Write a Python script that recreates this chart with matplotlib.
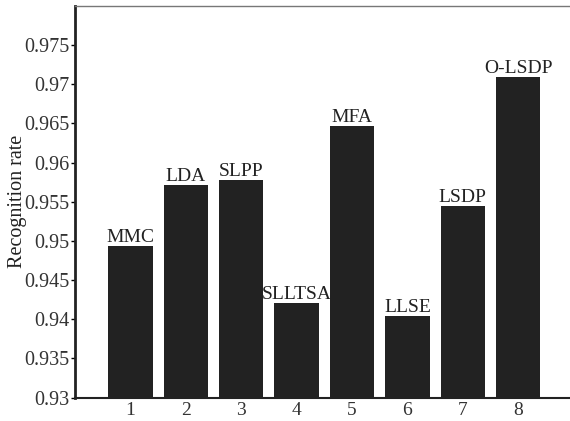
import numpy as np
import matplotlib.pyplot as plt

plt.rcParams['font.family'] = ['Liberation Serif', 'DejaVu Serif']

positions = [1, 2, 3, 4, 5, 6, 7, 8]
methods = ['MMC', 'LDA', 'SLPP', 'SLLTSA', 'MFA', 'LLSE', 'LSDP', 'O-LSDP']
rates = [0.9493, 0.9572, 0.9578, 0.9421, 0.9647, 0.9404, 0.9544, 0.9709]
yticks = [0.93, 0.935, 0.94, 0.945, 0.95, 0.955, 0.96, 0.965, 0.97, 0.975]
ytick_labels = ['0.93', '0.935', '0.94', '0.945', '0.95', '0.955', '0.96', '0.965', '0.97', '0.975']

fig = plt.figure(figsize=(5.7, 4.21), dpi=100)
ax = fig.add_axes([0.1316, 0.0558, 0.8747, 0.930])

ax.bar(positions, rates, width=0.8, color='#222222', edgecolor='none')
for x, r, m in zip(positions, rates, methods):
    ax.text(x, r, m, ha='center', va='bottom', fontsize=14, color='#222222')

ax.set_xlim(0, 9)
ax.set_ylim(0.93, 0.98)
ax.set_xticks(positions)
ax.set_xticklabels([str(p) for p in positions], fontsize=14, color='#333333')
ax.set_yticks(yticks)
ax.set_yticklabels(ytick_labels, fontsize=14.5, color='#333333')
ax.tick_params(axis='x', length=0, pad=3.5)
ax.tick_params(axis='y', direction='out', length=3, width=1, pad=1)
ax.set_ylabel('Recognition rate', fontsize=14.5, color='#222222', labelpad=-2)

ax.spines['left'].set_linewidth(2)
ax.spines['left'].set_color('#222222')
ax.spines['bottom'].set_linewidth(1.5)
ax.spines['bottom'].set_color('#222222')
ax.spines['top'].set_linewidth(1)
ax.spines['top'].set_color('#777777')
ax.spines['right'].set_visible(False)

fig.savefig('out.png', dpi=100)
